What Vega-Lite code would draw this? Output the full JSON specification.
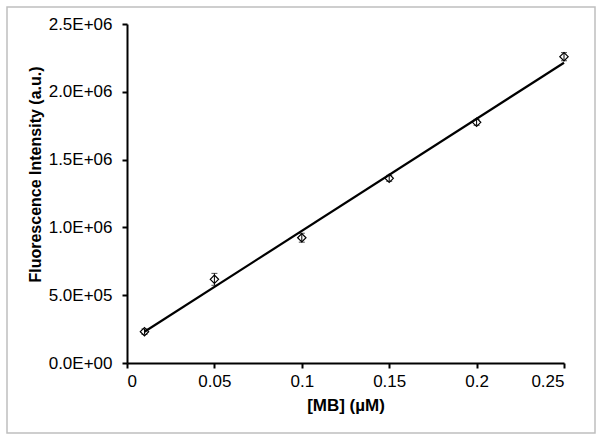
{
  "$schema": "https://vega.github.io/schema/vega-lite/v6.json",
  "width": 588,
  "height": 426,
  "autosize": {"type": "none"},
  "padding": {"left": 7, "top": 7, "right": 6, "bottom": 7},
  "background": "white",
  "config": {
    "view": {"stroke": "#bfbfbf", "strokeWidth": 1.5},
    "font": "Liberation Sans",
    "axis": {
      "domainColor": "black",
      "domainWidth": 2,
      "tickColor": "black",
      "tickWidth": 2,
      "tickSize": 5,
      "grid": false,
      "labelFont": "Liberation Sans",
      "labelFontSize": 17,
      "labelColor": "black",
      "titleFont": "Liberation Sans",
      "titleFontWeight": "bold",
      "titleColor": "black"
    }
  },
  "data": {
    "values": [
      {"conc": 0.01, "intensity": 231000, "err": 20000},
      {"conc": 0.05, "intensity": 617000, "err": 44000},
      {"conc": 0.1, "intensity": 924000, "err": 33000},
      {"conc": 0.15, "intensity": 1362000, "err": 22000},
      {"conc": 0.2, "intensity": 1775000, "err": 22000},
      {"conc": 0.25, "intensity": 2259000, "err": 30000}
    ]
  },
  "layer": [
    {
      "transform": [
        {"regression": "intensity", "on": "conc", "extent": [0.01, 0.25]}
      ],
      "mark": {"type": "line", "color": "black", "strokeWidth": 2.2},
      "encoding": {
        "x": {"field": "conc", "type": "quantitative", "title": "[MB] (µM)"},
        "y": {"field": "intensity", "type": "quantitative", "title": "Fluorescence Intensity (a.u.)"}
      }
    },
    {
      "transform": [
        {"calculate": "datum.intensity - datum.err", "as": "lo"},
        {"calculate": "datum.intensity + datum.err", "as": "hi"}
      ],
      "mark": {"type": "errorbar", "ticks": {"size": 6, "color": "black", "strokeWidth": 1}, "rule": {"color": "black", "strokeWidth": 1}},
      "encoding": {
        "x": {"field": "conc", "type": "quantitative", "title": "[MB] (µM)"},
        "y": {"field": "lo", "type": "quantitative", "title": "Fluorescence Intensity (a.u.)"},
        "y2": {"field": "hi"}
      }
    },
    {
      "mark": {"type": "point", "shape": "diamond", "filled": false, "fill": "white", "fillOpacity": 0, "stroke": "black", "strokeWidth": 1.2, "size": 70, "opacity": 1},
      "encoding": {
        "x": {
          "field": "conc",
          "type": "quantitative",
          "title": "[MB] (µM)",
          "scale": {"domain": [0, 0.25], "range": [120, 557], "nice": false, "zero": false},
          "axis": {
            "orient": "bottom",
            "offset": -70,
            "values": [0, 0.05, 0.1, 0.15, 0.2, 0.25],
            "format": ".2~f",
            "labelPadding": 5,
            "titleFontSize": 17,
            "titlePadding": 8
          }
        },
        "y": {
          "field": "intensity",
          "type": "quantitative",
          "title": "Fluorescence Intensity (a.u.)",
          "scale": {"domain": [0, 2500000], "range": [356, 17], "nice": false, "zero": false},
          "axis": {
            "orient": "left",
            "offset": -120,
            "values": [0, 500000, 1000000, 1500000, 2000000, 2500000],
            "labelExpr": "datum.value == 0 ? '0.0E+00' : (datum.value < 1000000 ? format(datum.value / 100000, '.1f') + 'E+05' : format(datum.value / 1000000, '.1f') + 'E+06')",
            "labelPadding": 10,
            "titleFontSize": 16,
            "titlePadding": 5,
            "titleY": 167
          }
        }
      }
    }
  ]
}
